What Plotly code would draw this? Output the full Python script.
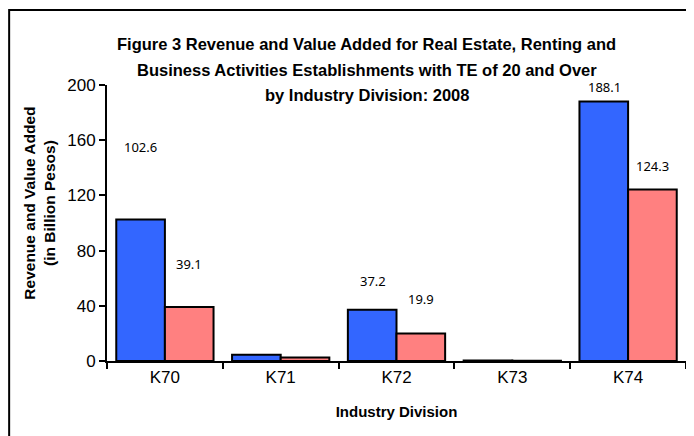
import plotly.graph_objects as go

# data
divisions = ["K70", "K71", "K72", "K73", "K74"]
revenue = [102.6, 4.5, 37.2, 0.3, 188.1]
value_added = [39.1, 2.5, 19.9, 0.1, 124.3]
revenue_labels = ["102.6", "", "37.2", "", "188.1"]
value_added_labels = ["39.1", "", "19.9", "", "124.3"]
title_lines = [
    "Figure 3 Revenue and Value Added for Real Estate, Renting and",
    "Business Activities Establishments with TE of 20 and Over",
    "by Industry Division: 2008",
]

# how far each label sits above its bar (px), as placed in the original
revenue_shift = [61, 0, 18, 0, 3]
value_added_shift = [32, 0, 24, 0, 12]

BLUE = "#3366FF"
PINK = "#FF8080"
FONT = "Liberation Sans Narrow, Arial Narrow, Liberation Sans, Arial"

fig = go.Figure()
fig.add_trace(go.Bar(x=divisions, y=revenue, name="Revenue",
                     marker=dict(color=BLUE, line=dict(color="black", width=2))))
fig.add_trace(go.Bar(x=divisions, y=value_added, name="Value Added",
                     marker=dict(color=PINK, line=dict(color="black", width=2))))

for labels, values, shifts, dx in [(revenue_labels, revenue, revenue_shift, -24),
                                   (value_added_labels, value_added, value_added_shift, 24)]:
    for cat, lab, val, sh in zip(divisions, labels, values, shifts):
        if lab:
            fig.add_annotation(x=cat, y=val, text=lab, showarrow=False,
                               xshift=dx, yshift=sh, yanchor="bottom",
                               font=dict(family="Noto Sans, Open Sans", size=13, color="black"))

# title, one annotation per line to keep the original spacing
for line, ty in zip(title_lines, [1.149, 1.056, 0.963]):
    fig.add_annotation(xref="paper", yref="paper", x=0.449, y=ty, text=f"<b>{line}</b>",
                       showarrow=False, xanchor="center", yanchor="middle",
                       font=dict(family=FONT, size=16.5, color="black"))

# y axis title
fig.add_annotation(xref="paper", yref="paper", x=-0.117, y=0.571,
                   text="<b>Revenue and Value Added<br>(in Billion Pesos)</b>",
                   showarrow=False, textangle=-90, xanchor="center", yanchor="middle",
                   font=dict(family=FONT, size=15.5, color="black"))

fig.update_layout(
    width=686, height=428,
    barmode="group", bargap=0.16, bargroupgap=0,
    showlegend=False,
    plot_bgcolor="white", paper_bgcolor="white",
    margin=dict(l=99, r=8, t=77, b=75),
    shapes=[dict(type="rect", xref="paper", yref="paper",
                 x0=-0.169, y0=-0.35, x1=1.05, y1=1.272,
                 line=dict(color="black", width=2), layer="below")],
)

fig.update_yaxes(
    range=[0, 200], tickvals=[0, 40, 80, 120, 160, 200],
    showline=True, linecolor="black", linewidth=2,
    ticks="outside", ticklen=6, tickcolor="black", tickwidth=2,
    showgrid=False, zeroline=False,
    tickfont=dict(family=FONT, size=17, color="black"),
)
fig.update_xaxes(
    showline=True, linecolor="black", linewidth=2,
    ticks="outside", ticklen=6, tickcolor="black", tickwidth=2,
    tickson="boundaries",
    tickfont=dict(family=FONT, size=17, color="black"),
    title=dict(text="<b>Industry Division</b>", standoff=20,
               font=dict(family=FONT, size=15, color="black")),
)

fig.write_html("out.html")
